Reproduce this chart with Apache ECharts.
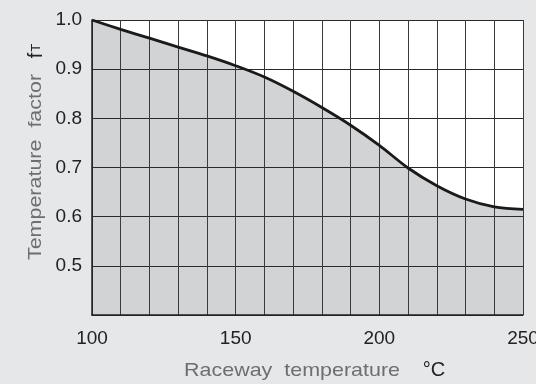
<!DOCTYPE html>
<html>
<head>
<meta charset="utf-8">
<script src="https://cdn.jsdelivr.net/npm/echarts@6/dist/echarts.min.js"></script>
<style>
html,body{margin:0;padding:0;background:#e6e7e9;}
#c{width:536px;height:384px;}
</style>
</head>
<body>
<div id="c"></div>
<script>
var temperatures = [100,110,120,130,140,150,160,170,180,190,200,210,220,230,240,250];
var factors = [1.0,0.981,0.963,0.945,0.927,0.907,0.884,0.855,0.822,0.786,0.745,0.699,0.663,0.636,0.620,0.615];
var xTickLabels = [100,150,200,250];
var yTickLabels = [0.5,0.6,0.7,0.8,0.9,1.0];
var xTitle = 'Raceway  temperature';
var xUnit = '°C';
var yTitle = 'Temperature  factor';

var data = temperatures.map(function(t,i){return [t,factors[i]];});
var chart = echarts.init(document.getElementById('c'), null, {renderer:'canvas'});
var F = '"Liberation Sans", Arial, sans-serif';
chart.setOption({
  backgroundColor:'#e6e7e9',
  animation:false,
  grid:{left:92,top:20,width:431,height:295,show:true,backgroundColor:'#ffffff',borderWidth:0,
    outerBoundsMode:'none',containLabel:false},
  xAxis:{type:'value',min:100,max:250,interval:10,z:3,
    axisLine:{show:true,lineStyle:{color:'#222',width:1.5}},
    axisTick:{show:false},
    splitLine:{show:true,lineStyle:{color:'#3a3a3a',width:1}},
    axisLabel:{margin:14,fontSize:19,fontFamily:F,color:'#222',hideOverlap:false,
      formatter:function(v){return xTickLabels.indexOf(v)>=0?String(v):'';}}
  },
  yAxis:{type:'value',min:0.4,max:1.0,interval:0.1,z:3,
    axisLine:{show:true,lineStyle:{color:'#222',width:1.5}},
    axisTick:{show:false},
    splitLine:{show:true,lineStyle:{color:'#2a2a2a',width:1}},
    axisLabel:{margin:10,fontSize:19,fontFamily:F,color:'#222',
      formatter:function(v){var r=Math.round(v*10)/10;return yTickLabels.indexOf(r)>=0?r.toFixed(1):'';}}
  },
  series:[
    {type:'line',data:data,smooth:0.35,symbol:'none',z:1,
      lineStyle:{width:0,opacity:0},areaStyle:{color:'#d2d3d5',opacity:1}},
    {type:'line',data:data,smooth:0.35,symbol:'none',z:5,
      lineStyle:{width:2.8,color:'#1a1a1a'}}
  ],
  graphic:[
    {type:'text',x:292,y:371,scaleX:1.13,style:{text:xTitle,font:'19px '+F,fill:'#6e6e6e',align:'center',verticalAlign:'middle'}},
    {type:'text',x:434,y:370,style:{text:xUnit,font:'20px '+F,fill:'#222',align:'center',verticalAlign:'middle'}},
    {type:'text',x:36,y:167,rotation:Math.PI/2,scaleX:1.13,style:{text:yTitle,font:'19px '+F,fill:'#6e6e6e',align:'center',verticalAlign:'middle'}},
    {type:'text',x:36,y:51,rotation:Math.PI/2,style:{text:'{f|f}{t|T}',align:'center',verticalAlign:'middle',
      rich:{f:{font:'20px '+F,fill:'#222',verticalAlign:'bottom'},t:{font:'13px '+F,fill:'#222',verticalAlign:'bottom',padding:[0,0,3,1]}}}}
  ]
});
</script>
</body>
</html>
